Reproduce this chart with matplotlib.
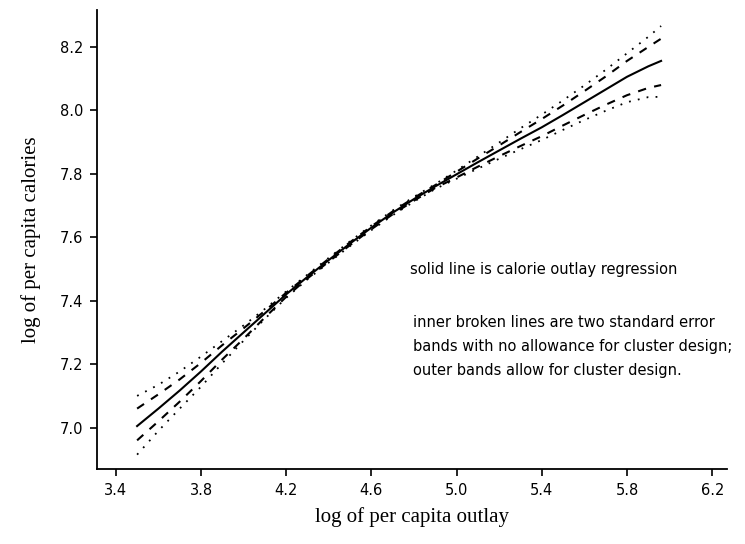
import matplotlib
matplotlib.use("Agg")
import matplotlib.pyplot as plt
import numpy as np

# log per capita outlay grid
outlay = [3.5, 3.6, 3.7, 3.8, 3.9, 4.0, 4.1, 4.2, 4.3, 4.4, 4.5, 4.6, 4.7,
          4.8, 4.9, 5.0, 5.1, 5.2, 5.3, 5.4, 5.5, 5.6, 5.7, 5.8, 5.9, 5.96]

# calorie outlay regression (solid line)
calories = [7.005, 7.06, 7.117, 7.177, 7.24, 7.30, 7.36, 7.42, 7.475, 7.528,
            7.58, 7.63, 7.677, 7.72, 7.76, 7.798, 7.836, 7.873, 7.91, 7.946,
            7.985, 8.025, 8.065, 8.105, 8.138, 8.155]

# inner bands (no allowance for cluster design): distance above / below
inner_up = [0.055, 0.045, 0.035, 0.027, 0.02, 0.013, 0.008, 0.005, 0.004, 0.004,
            0.004, 0.004, 0.004, 0.004, 0.004, 0.008, 0.012, 0.016, 0.021, 0.026,
            0.03, 0.035, 0.041, 0.05, 0.061, 0.07]
inner_dn = [0.045, 0.04, 0.035, 0.03, 0.025, 0.02, 0.013, 0.008, 0.005, 0.005,
            0.005, 0.005, 0.005, 0.005, 0.005, 0.01, 0.014, 0.018, 0.023, 0.028,
            0.033, 0.04, 0.048, 0.058, 0.068, 0.076]

# outer bands (allow for cluster design)
outer_up = [0.095, 0.075, 0.06, 0.047, 0.033, 0.022, 0.014, 0.009, 0.007, 0.007,
            0.007, 0.007, 0.007, 0.007, 0.007, 0.012, 0.018, 0.025, 0.033, 0.04,
            0.046, 0.053, 0.062, 0.074, 0.093, 0.11]
outer_dn = [0.09, 0.07, 0.057, 0.048, 0.037, 0.026, 0.017, 0.011, 0.008, 0.008,
            0.008, 0.008, 0.008, 0.008, 0.008, 0.014, 0.02, 0.026, 0.033, 0.04,
            0.047, 0.056, 0.067, 0.08, 0.097, 0.113]

x_ticks = [3.4, 3.8, 4.2, 4.6, 5.0, 5.4, 5.8, 6.2]
y_ticks = [7.0, 7.2, 7.4, 7.6, 7.8, 8.0, 8.2]

x = np.array(outlay)
y = np.array(calories)

fig = plt.figure(figsize=(7.45, 5.44), dpi=100)
ax = fig.add_axes([0.130, 0.138, 0.846, 0.844])

ax.plot(x, y, color="black", lw=1.5)
ax.plot(x, y + np.array(inner_up), color="black", lw=1.5, dashes=(4, 4))
ax.plot(x, y - np.array(inner_dn), color="black", lw=1.5, dashes=(4, 4))
ax.plot(x, y + np.array(outer_up), color="black", lw=1.3, dashes=(1, 4))
ax.plot(x, y - np.array(outer_dn), color="black", lw=1.3, dashes=(1, 4))

ax.set_xlim(3.311, 6.27)
ax.set_ylim(6.870, 8.316)
ax.set_xticks(x_ticks)
ax.set_xticklabels([f"{v:.1f}" for v in x_ticks])
ax.set_yticks(y_ticks)
ax.set_yticklabels([f"{v:.1f}" for v in y_ticks])
ax.tick_params(direction="out", length=5, width=1.2, labelsize=10.5, pad=5)

ax.spines["top"].set_visible(False)
ax.spines["right"].set_visible(False)
ax.spines["left"].set_linewidth(1.3)
ax.spines["bottom"].set_linewidth(1.3)

ax.set_xlabel("log of per capita outlay", family="Liberation Serif", fontsize=15, labelpad=7)
ax.set_ylabel("log of per capita calories", family="Liberation Serif", fontsize=15, labelpad=13)

ax.text(4.78, 7.497, "solid line is calorie outlay regression", fontsize=10.5, va="center")
notes = ["inner broken lines are two standard error",
         "bands with no allowance for cluster design;",
         "outer bands allow for cluster design."]
for i, line in enumerate(notes):
    ax.text(4.795, 7.332 - i * 0.0756, line, fontsize=10.5, va="center")

fig.savefig("out.png", dpi=100)
